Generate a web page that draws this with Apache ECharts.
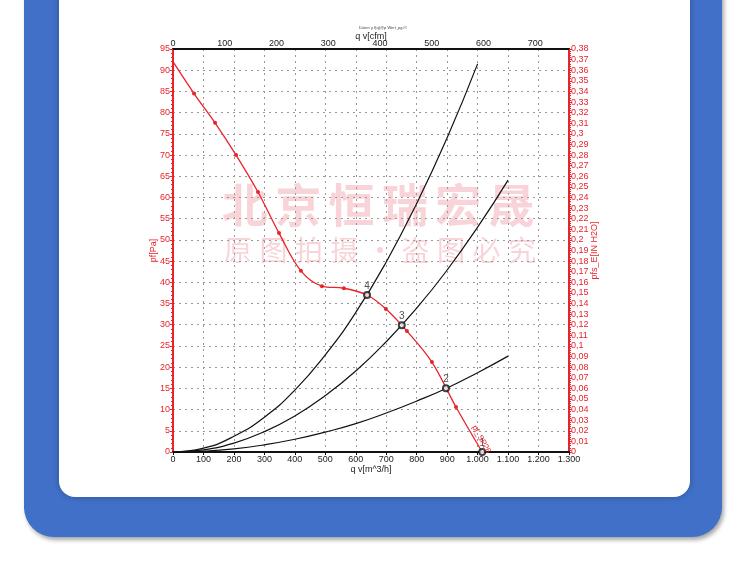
<!DOCTYPE html>
<html>
<head>
<meta charset="utf-8">
<script src="https://cdn.jsdelivr.net/npm/echarts@6/dist/echarts.min.js"></script>
<style>
html,body{margin:0;padding:0;background:#fff;width:750px;height:564px;overflow:hidden;}
#blue{position:absolute;left:24px;top:-40px;width:698px;height:577px;background:#4170c8;border-radius:0 0 30px 30px;box-shadow:2px 3px 4px rgba(0,0,0,0.35);}
#white{position:absolute;left:59px;top:-20px;width:631px;height:517px;background:#fff;border-radius:0 0 16px 16px;box-shadow:0 0 6px rgba(0,0,0,0.25);}
#chart{position:absolute;left:0;top:0;width:750px;height:564px;}
</style>
</head>
<body>
<div id="blue"></div>
<div id="white"></div>
<div id="chart"></div>
<script>
// ---- data ----
const chartTitle = 'Daten y f(q)@p Wert_pg##';
const fanQ = [0, 69, 138, 207, 279, 348, 420, 489, 561, 637, 699, 768, 850, 929, 1015];
const fanP = [92, 84.5, 77.6, 70.0, 61.3, 51.6, 42.7, 39.1, 38.6, 37.0, 33.7, 28.5, 21.2, 10.6, 0];
const sysQ = [0, 100, 200, 300, 400, 500, 600, 700, 800, 900, 1000, 1100];
const sysA = [0, 0.9, 3.7, 8.2, 14.6, 22.9, 32.9, 44.8, 58.6, 74.1, 91.5];
const sysB = [0, 0.5, 2.1, 4.8, 8.5, 13.3, 19.1, 26.0, 33.9, 42.9, 53.0, 64.1];
const sysC = [0, 0.2, 0.75, 1.7, 3.0, 4.7, 6.7, 9.2, 12.0, 15.1, 18.7, 22.6];
const opQ = [1015, 896, 751, 637];
const opP = [0, 15.0, 29.9, 37.0];
const opNames = ['1', '2', '3', '4'];
const curveLabel = 'pf_SP26';
const curveLabelAt = [1012, 3];
const wm1 = ['北', '京', '恒', '瑞', '宏', '晟'];
const wm2 = ['原', '图', '拍', '摄', '•', '盗', '图', '必', '究'];

const RED = '#e8232b';
const FONT = 'Liberation Sans, Arial, sans-serif';
const WM = 'rgba(234,130,145,0.34)';

const chart = echarts.init(document.getElementById('chart'), null, {renderer: 'canvas'});

function pairs(xs, ys) { return ys.map((y, i) => [xs[i], y]); }
const fanData = fanQ.map((q, i) => {
  const item = {value: [q, fanP[i]]};
  if (i === 0 || i === fanQ.length - 1) item.symbol = 'none';
  return item;
});

// watermark glyphs laid out individually (wide letter spacing)
const wmGraphics = [];
wm1.forEach((ch, i) => wmGraphics.push({type: 'text', x: 245 + i * 53.3, y: 205, z: -10, silent: true,
  style: {text: ch, fontSize: 46, fontWeight: 'bold', fontFamily: 'Noto Sans CJK SC', fill: WM, align: 'center', verticalAlign: 'middle'}}));
wm2.forEach((ch, i) => wmGraphics.push({type: 'text', x: 238 + i * 35.5, y: 250, z: -10, silent: true,
  style: {text: ch, fontSize: 28, fontFamily: 'Noto Sans CJK SC', fill: WM, align: 'center', verticalAlign: 'middle'}}));

const option = {
  animation: false,
  textStyle: {fontFamily: FONT},
  title: {text: chartTitle, left: 378, top: 21, textAlign: 'center', textStyle: {fontSize: 4, color: '#444', fontWeight: 'normal'}},
  grid: {left: 173, right: 181, top: 49, bottom: 112},
  graphic: wmGraphics,
  xAxis: [
    {type: 'value', position: 'bottom', min: 0, max: 1300, interval: 100,
     name: 'q v[m^3/h]', nameLocation: 'middle', nameGap: 13, nameMoveOverlap: false, nameTextStyle: {fontSize: 9, color: '#222'},
     axisLine: {onZero: false, lineStyle: {color: '#111', width: 2}},
     axisTick: {show: true, length: 3, lineStyle: {color: '#111'}},
     axisLabel: {fontSize: 9, color: '#222', margin: 3,
       formatter: v => v >= 1000 ? Math.floor(v / 1000) + '.' + String(v % 1000).padStart(3, '0') : String(v)},
     splitLine: {show: true, lineStyle: {color: '#999', type: [2, 4], width: 1}}},
    {type: 'value', position: 'top', min: 0, max: 1300 / 1.699, interval: 100,
     name: 'q v[cfm]', nameLocation: 'middle', nameGap: 8, nameMoveOverlap: false, nameTextStyle: {fontSize: 9, color: '#222'},
     axisLine: {onZero: false, lineStyle: {color: '#111', width: 2}},
     axisTick: {show: false},
     axisLabel: {fontSize: 9, color: '#222', margin: 1, showMaxLabel: false},
     splitLine: {show: false}}
  ],
  yAxis: [
    {type: 'value', position: 'left', min: 0, max: 95, interval: 5,
     name: 'pf[Pa]', nameLocation: 'middle', nameGap: 15, nameMoveOverlap: false, nameRotate: 90, nameTextStyle: {fontSize: 9, color: RED},
     axisLine: {onZero: false, lineStyle: {color: RED, width: 2}},
     axisTick: {show: true, length: 3, lineStyle: {color: RED}},
     minorTick: {show: true, splitNumber: 5, length: 2, lineStyle: {color: RED}},
     axisLabel: {fontSize: 9, color: RED, margin: 3},
     splitLine: {show: true, lineStyle: {color: '#999', type: [2, 4], width: 1}}},
    {type: 'value', position: 'right', min: 0, max: 0.38, interval: 0.01,
     name: 'pfs_E[IN H2O]', nameLocation: 'middle', nameGap: 21, nameMoveOverlap: false, nameRotate: 90, nameTextStyle: {fontSize: 9, color: RED},
     axisLine: {onZero: false, lineStyle: {color: RED, width: 2}},
     axisTick: {show: true, length: 3, lineStyle: {color: RED}},
     minorTick: {show: true, splitNumber: 5, length: 2, lineStyle: {color: RED}},
     axisLabel: {fontSize: 9, color: RED, margin: 2,
       formatter: v => String(Math.round(v * 100) / 100).replace('.', ',')},
     splitLine: {show: false}}
  ],
  series: [
    {type: 'line', name: 'A', xAxisIndex: 0, yAxisIndex: 0, data: pairs(sysQ, sysA), smooth: true, symbol: 'none', lineStyle: {color: '#111', width: 1.2}},
    {type: 'line', name: 'B', xAxisIndex: 0, yAxisIndex: 0, data: pairs(sysQ, sysB), smooth: true, symbol: 'none', lineStyle: {color: '#111', width: 1.2}},
    {type: 'line', name: 'C', xAxisIndex: 0, yAxisIndex: 0, data: pairs(sysQ, sysC), smooth: true, symbol: 'none', lineStyle: {color: '#111', width: 1.2}},
    {type: 'line', name: 'fan', xAxisIndex: 0, yAxisIndex: 0, data: fanData, smooth: 0.35, symbol: 'circle', symbolSize: 4,
     itemStyle: {color: RED}, lineStyle: {color: RED, width: 1.3}, z: 3},
    {type: 'scatter', name: 'op', xAxisIndex: 0, yAxisIndex: 0, data: pairs(opQ, opP), symbol: 'emptyCircle', symbolSize: 6,
     itemStyle: {color: '#111', borderColor: '#111', borderWidth: 1}, z: 5,
     label: {show: true, position: 'top', distance: 0, color: '#222', fontSize: 10, formatter: p => opNames[p.dataIndex]}}
  ]
};
chart.setOption(option);
const lp = chart.convertToPixel({xAxisIndex: 0, yAxisIndex: 0}, curveLabelAt);
chart.setOption({graphic: wmGraphics.concat([
  {type: 'text', x: lp[0], y: lp[1], rotation: -61 * Math.PI / 180, z: 10, silent: true,
   style: {text: curveLabel, fill: RED, fontSize: 8, fontFamily: FONT, align: 'center', verticalAlign: 'middle'}}
])});
</script>
</body>
</html>
